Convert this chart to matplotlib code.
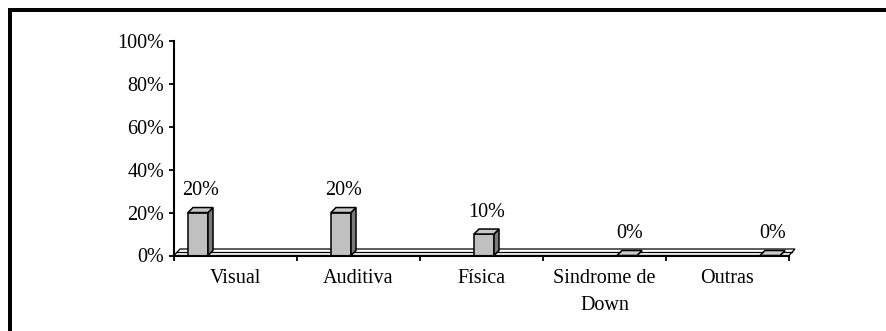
import matplotlib
matplotlib.use('Agg')
from matplotlib import pyplot as plt
from matplotlib.patches import Polygon, Rectangle
from matplotlib.ticker import FixedLocator, FuncFormatter, NullFormatter


categorias = ['Visual', 'Auditiva', 'Física', 'Sindrome de\nDown', 'Outras']
percentuais = [20, 20, 10, 0, 0]
ticks_y = [0, 20, 40, 60, 80, 100]

plt.rcParams['font.family'] = ['Liberation Serif', 'DejaVu Serif']
plt.rcParams['font.size'] = 14.5

W, H = 887, 331
fig = plt.figure(figsize=(W / 100, H / 100), dpi=100)
fig.patch.set_facecolor('white')

# moldura externa (cortada à direita e embaixo, como no original)
fig.add_artist(Rectangle((10 / W, -0.2), 1.2, (H - 10) / H + 0.2, transform=fig.transFigure,
                         fill=False, ec='black', lw=2.9))

pos = [174 / W, 75.5 / H, 615 / W, 214.8 / H]
ax = fig.add_axes(pos)          # eixos, marcas e rótulos
ax2 = ax.twiny()                # barras 3D e piso
ax.set_zorder(2)
ax2.set_zorder(1)
ax.patch.set_visible(False)

n = len(categorias)
ax.set_xlim(0, n)
ax.set_ylim(0, 100)

# escala das barras (o desenho original espalha as barras mais que o eixo)
passo_px = 143.0
x_min = -(198.0 - 174.0) / passo_px
ax2.set_xlim(x_min, x_min + 615.0 / passo_px)
ax2.set_ylim(0, 100)
ax2.axis('off')

# deslocamento de profundidade (pixels -> dados)
inv = ax2.transData.inverted()
p0 = inv.transform(ax2.transData.transform((0, 0)))
def desloc(dx_px, dy_px):
    a = ax2.transData.transform((0, 0))
    b = inv.transform((a[0] + dx_px, a[1] + dy_px))
    return b[0] - p0[0], b[1] - p0[1]

ddx, ddy = desloc(5, 5)

# piso
xa, xb = ax2.get_xlim()
fx, fy = desloc(6, 6.5)
mx, my = desloc(2.5, 4)
ax2.add_patch(Polygon([(xa, 0), (xb, 0), (xb + fx, fy), (xa + fx, fy)], closed=True,
                      fc='white', ec='black', lw=0.9, clip_on=False, zorder=1))
ax2.plot([xa + mx, xb + mx], [my, my], color='black', lw=0.9, clip_on=False, zorder=1)

# barras
larg = 0.14
xs = list(range(n))
ax2.bar(xs, percentuais, width=larg, color='#c0c0c0', edgecolor='black', lw=1.1,
        zorder=3, clip_on=False)
for x, h in zip(xs, percentuais):
    l, r = x - larg / 2, x + larg / 2
    ax2.add_patch(Polygon([(r, 0), (r + ddx, ddy), (r + ddx, h + ddy), (r, h)], closed=True,
                          fc='#7a7a7a', ec='black', lw=1.1, clip_on=False, zorder=3))
    ax2.add_patch(Polygon([(l, h), (r, h), (r + ddx, h + ddy), (l + ddx, h + ddy)], closed=True,
                          fc='#c8c8c8', ec='black', lw=1.1, clip_on=False, zorder=3))
    ax2.annotate(f'{h}%', xy=(x + ddx / 2, h), xytext=(0, 12.5), textcoords='offset points',
                 ha='center', va='baseline')

# eixos
for s in ['top', 'right']:
    ax.spines[s].set_visible(False)
for s in ['left', 'bottom']:
    ax.spines[s].set_linewidth(1.5)

ax.yaxis.set_major_locator(FixedLocator(ticks_y))
ax.yaxis.set_major_formatter(FuncFormatter(lambda v, p: f'{v:.0f}%'))
ax.tick_params(axis='y', direction='out', length=3.5, width=1.3, pad=3.5)

ax.xaxis.set_major_locator(FixedLocator(list(range(n + 1))))
ax.xaxis.set_major_formatter(NullFormatter())
ax.xaxis.set_minor_locator(FixedLocator([i + 0.5 for i in range(n)]))
ax.set_xticklabels(categorias, minor=True)
ax.tick_params(axis='x', which='major', direction='out', length=3.5, width=1.3)
ax.tick_params(axis='x', which='minor', length=0, pad=10)
for lbl in ax.get_xticklabels(minor=True):
    lbl.set_linespacing(1.55)

fig.savefig('out.png', dpi=100, facecolor='white')
